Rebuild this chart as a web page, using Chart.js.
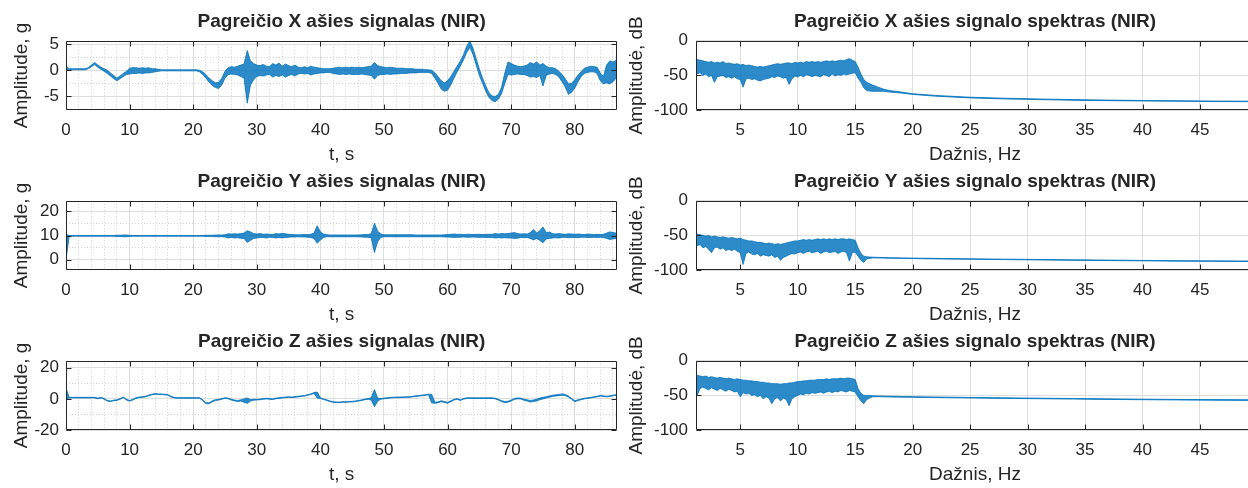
<!DOCTYPE html>
<html>
<head>
<meta charset="utf-8">
<title>Pagreičio signalai ir spektrai (NIR)</title>
<script src="https://cdn.jsdelivr.net/npm/chart.js@4.4.1/dist/chart.umd.min.js"></script>
<style>
  html, body { margin: 0; padding: 0; background: #fff; overflow: hidden; }
  body { position: relative; width: 1248px; height: 488px; }
  canvas { position: absolute; }
</style>
</head>
<body>
<canvas id="xSig" width="623" height="168" style="left:0;top:0"></canvas>
<canvas id="xSpec" width="630" height="168" style="left:624px;top:0"></canvas>
<canvas id="ySig" width="623" height="168" style="left:0;top:160px"></canvas>
<canvas id="ySpec" width="630" height="168" style="left:624px;top:160px"></canvas>
<canvas id="zSig" width="623" height="168" style="left:0;top:320px"></canvas>
<canvas id="zSpec" width="630" height="168" style="left:624px;top:320px"></canvas>
<script>
// time axis, s (one sample every 0.5 s)
var tSec = [
  0, 0.5, 1, 1.5, 2, 2.5, 3, 3.5, 4, 4.5, 5, 5.5, 6, 6.5, 7, 7.5, 8, 8.5, 9, 9.5,
  10, 10.5, 11, 11.5, 12, 12.5, 13, 13.5, 14, 14.5, 15, 15.5, 16, 16.5, 17, 17.5, 18, 18.5, 19, 19.5,
  20, 20.5, 21, 21.5, 22, 22.5, 23, 23.5, 24, 24.5, 25, 25.5, 26, 26.5, 27, 27.5, 28, 28.5, 29, 29.5,
  30, 30.5, 31, 31.5, 32, 32.5, 33, 33.5, 34, 34.5, 35, 35.5, 36, 36.5, 37, 37.5, 38, 38.5, 39, 39.5,
  40, 40.5, 41, 41.5, 42, 42.5, 43, 43.5, 44, 44.5, 45, 45.5, 46, 46.5, 47, 47.5, 48, 48.5, 49, 49.5,
  50, 50.5, 51, 51.5, 52, 52.5, 53, 53.5, 54, 54.5, 55, 55.5, 56, 56.5, 57, 57.5, 58, 58.5, 59, 59.5,
  60, 60.5, 61, 61.5, 62, 62.5, 63, 63.5, 64, 64.5, 65, 65.5, 66, 66.5, 67, 67.5, 68, 68.5, 69, 69.5,
  70, 70.5, 71, 71.5, 72, 72.5, 73, 73.5, 74, 74.5, 75, 75.5, 76, 76.5, 77, 77.5, 78, 78.5, 79, 79.5,
  80, 80.5, 81, 81.5, 82, 82.5, 83, 83.5, 84, 84.5, 85, 85.5, 86, 86.5
];

// X axis signal, g: upper / lower edge of the trace
var xSigHi = [
  0.8, 0.3, 0.3, 0.3, 0.3, 0.3, 0.3, 0.5, 1.0, 1.5, 1.0, 0.6, 0.3, 0.0, -0.5, -1.0, -1.5, -1.1, -0.6, -0.2,
  0.4, 0.5, 0.5, 0.4, 0.5, 0.4, 0.5, 0.3, 0.3, 0.2, 0.1, 0.1, 0.1, 0.1, 0.1, 0.1, 0.1, 0.1, 0.1, 0.1,
  0.1, 0.1, 0.0, -0.3, -0.8, -1.5, -2.0, -2.4, -2.3, -1.5, -0.2, 0.5, 0.7, 0.6, 0.8, 1.0, 1.2, 3.8, 1.8, 1.3,
  1.0, 0.9, 1.1, 0.8, 0.7, 1.3, 1.0, 1.4, 0.8, 1.2, 0.9, 0.7, 1.0, 0.6, 0.5, 0.7, 0.5, 0.8, 0.6, 0.5,
  0.4, 0.3, 0.3, 0.3, 0.4, 0.5, 0.6, 0.5, 0.6, 0.5, 0.6, 0.5, 0.6, 0.5, 0.6, 0.7, 0.8, 1.5, 0.9, 0.7,
  0.6, 0.5, 0.6, 0.5, 0.4, 0.4, 0.4, 0.3, 0.3, 0.3, 0.2, 0.2, 0.2, 0.1, 0.1, 0.0, -0.5, -1.2, -2.0, -2.4,
  -2.0, -1.2, -0.2, 0.8, 1.8, 3.0, 4.6, 5.6, 4.2, 2.2, 0.2, -1.5, -3.0, -4.3, -4.9, -5.0, -4.6, -3.2, -0.5, 1.6,
  1.3, 1.0, 0.8, 0.7, 0.8, 1.0, 1.5, 1.2, 1.6, 1.0, 1.3, 0.8, 0.5, 0.5, 0.3, -0.2, -0.8, -1.6, -2.6, -2.5,
  -1.8, -0.9, -0.3, 0.4, 0.6, 0.8, 0.7, 0.6, -0.5, -1.2, 1.0, 1.8, 1.6, 1.9
];
var xSigLo = [
  -0.1, 0.1, 0.1, 0.1, 0.1, 0.1, 0.1, 0.3, 0.7, 1.1, 0.6, 0.2, -0.2, -0.6, -1.1, -1.6, -2.0, -1.6, -1.2, -0.8,
  -0.7, -0.6, -0.6, -0.5, -0.6, -0.5, -0.5, -0.4, -0.3, -0.2, -0.1, -0.1, -0.1, -0.1, -0.1, -0.1, -0.1, -0.1, -0.1, -0.1,
  -0.1, -0.1, -0.3, -0.8, -1.5, -2.3, -2.9, -3.3, -3.5, -2.8, -1.5, -0.8, -0.7, -0.8, -0.9, -1.2, -1.5, -6.3, -2.8, -1.8,
  -1.2, -1.0, -1.1, -0.9, -0.8, -1.3, -1.0, -1.2, -0.9, -1.3, -1.0, -0.8, -1.1, -0.7, -0.6, -0.7, -0.6, -0.9, -0.7, -0.6,
  -0.5, -0.5, -0.4, -0.4, -0.6, -0.7, -0.8, -0.7, -0.8, -0.7, -0.8, -0.8, -0.8, -0.7, -0.8, -0.9, -1.0, -1.7, -1.0, -0.8,
  -0.8, -0.7, -0.8, -0.7, -0.7, -0.6, -0.6, -0.6, -0.5, -0.5, -0.5, -0.4, -0.4, -0.4, -0.4, -0.6, -1.5, -2.5, -3.6, -4.0,
  -3.8, -2.8, -1.5, -0.3, 0.8, 2.0, 3.4, 4.4, 3.0, 1.0, -1.0, -2.5, -4.0, -5.2, -5.8, -6.0, -5.5, -4.4, -2.5, -0.8,
  -0.9, -0.8, -0.7, -0.8, -0.8, -1.0, -1.3, -1.2, -1.4, -1.0, -3.0, -1.0, -0.7, -0.6, -0.8, -1.3, -2.2, -3.2, -4.6, -4.2,
  -3.4, -2.2, -1.2, -0.6, -0.4, -0.3, -0.3, -0.6, -2.0, -2.6, -2.4, -2.6, -2.2, -1.5
];

// Y axis signal, g
var ySigHi = [
  10.5, 10.0, 10.0, 10.0, 10.0, 10.0, 10.0, 10.0, 10.0, 10.0, 10.0, 10.0, 10.0, 10.0, 10.0, 10.0, 10.1, 10.1, 10.2, 10.2,
  10.1, 10.0, 10.0, 10.0, 10.0, 10.0, 10.0, 10.0, 10.0, 10.0, 10.0, 10.0, 10.0, 10.0, 10.0, 10.0, 10.0, 10.0, 10.0, 10.0,
  10.0, 10.0, 10.0, 10.0, 10.1, 10.1, 10.1, 10.2, 10.2, 10.2, 10.3, 10.7, 10.6, 10.7, 10.6, 10.8, 11.0, 12.0, 11.5, 10.8,
  10.6, 10.8, 10.5, 10.6, 10.5, 10.4, 10.8, 10.6, 10.9, 10.7, 10.5, 10.4, 10.3, 10.3, 10.3, 10.4, 10.4, 10.5, 11.0, 14.0,
  11.5, 10.6, 10.3, 10.2, 10.2, 10.2, 10.2, 10.2, 10.2, 10.2, 10.2, 10.2, 10.2, 10.3, 10.4, 10.4, 10.8, 15.0, 11.8, 10.6,
  10.3, 10.3, 10.3, 10.3, 10.3, 10.3, 10.3, 10.3, 10.3, 10.3, 10.2, 10.2, 10.2, 10.2, 10.2, 10.2, 10.2, 10.2, 10.2, 10.3,
  10.4, 10.5, 10.6, 10.5, 10.5, 10.4, 10.5, 10.5, 10.4, 10.5, 10.5, 10.4, 10.5, 10.5, 10.5, 10.8, 10.6, 10.8, 10.7, 10.8,
  11.0, 11.2, 10.8, 10.6, 10.7, 10.6, 11.2, 12.5, 11.0, 12.0, 13.5, 11.2, 11.4, 10.8, 10.6, 10.8, 10.6, 10.5, 10.7, 10.6,
  10.5, 10.6, 10.5, 10.4, 10.6, 10.5, 10.4, 10.5, 10.4, 10.5, 11.0, 11.5, 11.2, 11.0
];
var ySigLo = [
  0.0, 9.7, 9.7, 9.7, 9.7, 9.7, 9.7, 9.7, 9.7, 9.7, 9.7, 9.7, 9.7, 9.7, 9.7, 9.7, 9.6, 9.6, 9.5, 9.5,
  9.6, 9.7, 9.7, 9.7, 9.7, 9.7, 9.7, 9.7, 9.7, 9.7, 9.7, 9.7, 9.7, 9.7, 9.7, 9.7, 9.7, 9.7, 9.7, 9.7,
  9.7, 9.7, 9.7, 9.7, 9.6, 9.6, 9.6, 9.5, 9.5, 9.5, 9.4, 9.0, 9.2, 9.0, 9.1, 8.9, 8.8, 7.2, 8.0, 8.8,
  9.0, 9.2, 9.2, 9.0, 9.3, 9.2, 9.0, 9.2, 9.0, 9.2, 9.3, 9.4, 9.4, 9.5, 9.4, 9.4, 9.3, 9.2, 8.8, 6.8,
  8.2, 9.2, 9.5, 9.5, 9.5, 9.5, 9.5, 9.5, 9.5, 9.5, 9.5, 9.5, 9.5, 9.4, 9.3, 9.3, 9.0, 3.0, 7.5, 9.2,
  9.5, 9.5, 9.5, 9.5, 9.5, 9.5, 9.5, 9.5, 9.5, 9.5, 9.5, 9.5, 9.5, 9.5, 9.5, 9.5, 9.5, 9.5, 9.5, 9.4,
  9.4, 9.3, 9.2, 9.3, 9.3, 9.4, 9.3, 9.3, 9.4, 9.3, 9.2, 9.3, 9.2, 9.2, 9.2, 9.0, 9.1, 9.0, 9.1, 9.0,
  9.0, 8.8, 8.9, 9.2, 9.1, 9.2, 8.8, 8.2, 8.8, 8.0, 7.0, 8.6, 8.8, 9.0, 9.1, 9.0, 9.2, 9.3, 9.1, 9.2,
  9.2, 9.1, 9.3, 9.3, 9.2, 9.2, 9.3, 9.2, 9.3, 9.2, 8.8, 8.4, 8.6, 8.8
];

// Z axis signal, g
var zSigHi = [
  7.0, 1.0, 1.0, 1.0, 1.0, 1.0, 1.0, 1.0, 1.0, 1.0, 0.5, 1.0, 0.2, -1.0, -1.3, -0.8, -0.6, 0.2, 1.2, -0.3,
  -1.0, -0.3, 0.7, 1.2, 1.4, 1.7, 2.4, 3.0, 3.4, 3.2, 3.2, 3.0, 2.8, 1.7, 1.0, 0.8, 0.8, 0.8, 0.8, 0.8,
  0.8, 0.8, 0.8, -0.5, -2.5, -2.5, -1.2, -0.5, -0.3, 0.2, 0.7, 0.5, -0.3, -0.7, -1.0, -0.6, 0.0, 0.6, -0.4, -0.2,
  -0.3, -0.1, 0.2, 0.4, 0.2, 0.0, 0.5, 0.7, 1.0, 1.2, 1.4, 1.2, 1.5, 1.7, 2.0, 2.2, 2.7, 3.2, 4.1, 4.4,
  0.7, 0.0, -0.6, -1.3, -1.8, -2.0, -2.0, -1.8, -1.8, -1.6, -1.6, -1.3, -1.0, -0.6, -0.1, 0.2, 0.8, 6.0, 0.5, 0.2,
  0.5, 0.7, 1.0, 1.1, 1.2, 1.2, 1.3, 1.4, 1.4, 1.7, 2.0, 2.2, 2.4, 2.7, 3.0, 2.9, -2.2, -1.9, -1.2, -1.7,
  -2.2, -1.2, -0.3, 0.2, -0.6, 0.2, 0.7, 0.7, 0.7, 0.7, 0.7, 0.7, 0.7, 0.7, 0.7, 0.4, -0.3, -1.2, -1.7, -1.5,
  -0.7, 0.3, 0.6, 0.5, -0.2, -0.6, -1.0, -0.7, -0.2, 0.5, 1.0, 1.4, 1.9, 2.4, 2.6, 2.9, 3.2, 2.9, 1.8, 0.3,
  -1.2, -0.6, -0.1, 0.4, 0.7, 1.0, 1.4, 1.7, 2.2, 2.0, 1.7, 2.0, 2.4, 2.7
];
var zSigLo = [
  0.0, 0.6, 0.6, 0.6, 0.6, 0.6, 0.6, 0.6, 0.6, 0.6, 0.1, 0.6, -0.2, -1.4, -1.7, -1.2, -1.0, -0.2, 0.8, -0.7,
  -1.4, -0.7, 0.3, 0.8, 1.0, 1.3, 2.0, 2.6, 3.0, 2.8, 2.8, 2.6, 2.4, 1.3, 0.6, 0.4, 0.4, 0.4, 0.4, 0.4,
  0.4, 0.4, 0.4, -1.1, -3.1, -3.1, -1.8, -1.1, -0.7, -0.2, 0.3, 0.1, -0.7, -1.3, -1.6, -1.4, -2.2, -2.8, -1.4, -0.8,
  -0.7, -0.5, -0.2, 0.0, -0.2, -0.4, 0.1, 0.3, 0.6, 0.8, 1.0, 0.8, 1.1, 1.3, 1.6, 1.8, 2.3, 2.8, 3.5, 0.5,
  0.3, -0.4, -1.0, -1.7, -2.2, -2.4, -2.4, -2.2, -2.2, -2.0, -2.0, -1.7, -1.4, -1.0, -0.5, -0.2, -0.8, -5.0, -1.5, -0.2,
  0.1, 0.3, 0.6, 0.7, 0.8, 0.8, 0.9, 1.0, 1.0, 1.3, 1.6, 1.8, 2.0, 2.3, 2.6, -2.6, -2.8, -2.5, -1.8, -2.3,
  -2.8, -1.8, -0.7, -0.2, -1.0, -0.2, 0.3, 0.3, 0.3, 0.3, 0.3, 0.3, 0.3, 0.3, 0.3, 0.0, -0.7, -1.8, -2.3, -2.1,
  -1.3, -0.3, 0.0, -0.1, -0.8, -1.4, -2.0, -1.7, -1.4, -0.5, 0.0, 0.6, 1.1, 1.6, 1.8, 2.1, 2.4, 2.1, 1.2, -0.3,
  -1.8, -1.0, -0.5, 0.0, 0.3, 0.6, 1.0, 1.3, 1.8, 1.6, 1.3, 1.6, 2.0, 2.3
];

// frequency axis, Hz
var fHz = [
  1.15, 1.25, 1.5, 1.75,
  2, 2.25, 2.5, 2.75,
  3, 3.25, 3.5, 3.75,
  4, 4.25, 4.5, 4.75,
  5, 5.25, 5.5, 5.75,
  6, 6.25, 6.5, 6.75,
  7, 7.25, 7.5, 7.75,
  8, 8.25, 8.5, 8.75,
  9, 9.25, 9.5, 9.75,
  10, 10.25, 10.5, 10.75,
  11, 11.25, 11.5, 11.75,
  12, 12.25, 12.5, 12.75,
  13, 13.25, 13.5, 13.75,
  14, 14.25, 14.5, 14.75,
  15, 15.25, 15.5, 15.75,
  16, 16.5, 17, 17.5, 18,
  19, 20, 22, 25, 28, 31, 34, 37, 40, 43, 46, 49.7
];

// spectra, dB: upper / lower edge of the trace
var xSpecHi = [
  -28, -27, -28, -29,
  -30, -31, -30, -32,
  -31, -32, -30, -33,
  -32, -33, -34, -33,
  -35, -34, -36, -35,
  -36, -37, -38, -37,
  -38, -37, -36, -35,
  -34, -33, -34, -33,
  -32, -32, -33, -31,
  -32, -31, -32, -30,
  -31, -30, -31, -30,
  -31, -30, -29, -30,
  -29, -30, -29, -28,
  -29, -27, -26, -28,
  -30, -38, -48, -56,
  -60, -64, -67, -70, -72,
  -74, -76.5, -79, -81.5, -83, -84, -85, -85.7, -86.2, -86.6, -87, -87.3
];
var xSpecLo = [
  -45, -48, -46, -50,
  -48, -52, -50, -60,
  -52, -51, -50, -53,
  -52, -54, -52, -55,
  -56, -67, -55, -54,
  -56, -55, -57, -58,
  -56, -55, -54, -52,
  -53, -51, -52, -54,
  -53, -63, -55, -51,
  -52, -50, -52, -49,
  -50, -52, -50, -51,
  -52, -49, -50, -52,
  -48, -51, -49, -50,
  -48, -49, -48, -47,
  -46, -54, -60, -68,
  -72, -73, -73, -73, -74,
  -75.5, -77.5, -80, -82.5, -84, -85, -86, -86.5, -87, -87.4, -87.8, -88
];
var ySpecHi = [
  -50, -48, -49, -50,
  -51, -50, -52, -51,
  -52, -53, -52, -53,
  -54, -53, -54, -55,
  -54, -56, -57, -58,
  -58, -59, -60, -60,
  -61, -62, -61, -62,
  -63, -62, -63, -62,
  -61, -60, -59, -58,
  -58, -57, -56, -57,
  -56, -57, -56, -55,
  -56, -55, -56, -55,
  -56, -55, -56, -55,
  -55, -56, -55, -56,
  -57, -68, -76, -80,
  -81, -81.5, -81.8, -82, -82.2,
  -82.5, -82.8, -83.2, -83.8, -84.3, -84.8, -85.3, -85.7, -86.1, -86.5, -86.8, -87.1
];
var ySpecLo = [
  -62, -65, -63, -68,
  -66, -70, -75, -68,
  -67, -70, -68, -72,
  -70, -72, -70, -73,
  -75, -92, -76, -74,
  -77, -78, -76, -80,
  -78, -79, -80, -78,
  -82, -80, -86, -82,
  -80, -78, -76, -77,
  -75, -74, -76, -74,
  -73, -75, -74, -73,
  -76, -74, -73, -75,
  -74, -73, -76, -74,
  -73, -75, -87, -75,
  -74, -80, -86, -89,
  -84, -82.5, -82.6, -82.8, -83,
  -83.2, -83.5, -84, -84.5, -85, -85.5, -86, -86.4, -86.8, -87.2, -87.5, -87.8
];
var zSpecHi = [
  -22, -21, -22, -23,
  -22, -24, -23, -24,
  -25, -24, -25, -26,
  -25, -26, -27, -26,
  -27, -28, -28, -29,
  -29, -30, -30, -31,
  -31, -32, -32, -33,
  -33, -33, -34, -33,
  -33, -32, -32, -31,
  -30, -30, -29, -29,
  -28, -28, -28, -27,
  -27, -27, -26, -27,
  -26, -26, -26, -25,
  -26, -25, -25, -26,
  -27, -40, -47, -50,
  -50, -50.5, -50.8, -51, -51.2,
  -51.5, -51.8, -52.3, -53, -53.5, -54, -54.5, -55, -55.4, -55.8, -56.1, -56.4
];
var zSpecLo = [
  -38, -50, -40, -38,
  -40, -42, -39, -41,
  -43, -40, -42, -44,
  -41, -43, -45, -44,
  -52, -46, -48, -47,
  -50, -49, -52, -50,
  -55, -52, -54, -62,
  -55, -53, -58, -54,
  -56, -65, -55, -52,
  -50, -48, -49, -47,
  -48, -46, -47, -46,
  -45, -47, -45, -44,
  -46, -44, -45, -43,
  -44, -45, -43, -44,
  -45, -52, -58, -62,
  -56, -52, -51.8, -52, -52.2,
  -52.5, -52.8, -53.2, -53.8, -54.3, -54.8, -55.3, -55.8, -56.2, -56.6, -56.9, -57.2
];

var blue = '#0072bd';
var blueFill = 'rgba(0, 114, 189, 0.82)';
var ink = '#262626';
var gridMajor = '#dedede';
var gridMinor = '#d2d2d2';
var family = "'Liberation Sans', Arial, Helvetica, sans-serif";

function isMajor(v, step) {
    var q = v / step;
    return Math.abs(q - Math.round(q)) < 1e-6;
}

function pairs(xs, ys) {
    return xs.map(function (x, i) { return {x: x, y: ys[i]}; });
}

// MATLAB style box with inward tick marks
var boxPlugin = {
    id: 'box',
    afterDatasetsDraw: function (chart, args, opts) {
        var a = chart.chartArea;
        var c = chart.ctx;
        var l = Math.round(a.left) + 0.5, r = Math.round(a.right) - 0.5;
        var t = Math.round(a.top) + 0.5, b = Math.round(a.bottom) - 0.5;
        c.save();
        c.strokeStyle = ink;
        c.lineWidth = 1;
        c.beginPath();
        chart.scales.x.ticks.forEach(function (tk) {
            if (!isMajor(tk.value, opts.xMajor)) return;
            var px = Math.round(chart.scales.x.getPixelForValue(tk.value)) + 0.5;
            c.moveTo(px, b); c.lineTo(px, b - 5);
            c.moveTo(px, t); c.lineTo(px, t + 5);
        });
        chart.scales.y.ticks.forEach(function (tk) {
            if (!isMajor(tk.value, opts.yMajor)) return;
            var py = Math.round(chart.scales.y.getPixelForValue(tk.value)) + 0.5;
            c.moveTo(l, py); c.lineTo(l + 5, py);
            c.moveTo(r, py); c.lineTo(r - 5, py);
        });
        c.rect(l, t, r - l, b - t);
        c.stroke();
        c.restore();
    }
};

function axis(o) {
    return {
        type: 'linear',
        min: o.min,
        max: o.max,
        afterFit: o.fit,
        ticks: {
            stepSize: o.step,
            includeBounds: false,
            autoSkip: false,
            maxRotation: 0,
            minRotation: 0,
            padding: o.pad,
            color: ink,
            font: {family: family, size: 17},
            callback: function (v) { return isMajor(v, o.major) ? String(v) : ''; }
        },
        grid: {
            drawTicks: false,
            color: function (c) { return c.tick && isMajor(c.tick.value, o.major) ? gridMajor : gridMinor; }
        },
        border: {
            display: false,
            dash: function (c) { return c.tick && !isMajor(c.tick.value, o.major) ? [1, 2] : []; }
        },
        title: {
            display: true,
            text: o.title,
            color: ink,
            font: {family: family, size: 19},
            padding: o.titlePad
        }
    };
}

function makeChart(id, c) {
    var ctx = document.getElementById(id).getContext('2d');
    var left = c.side === 'left';
    return new Chart(ctx, {
        type: 'line',
        data: {
            datasets: [{
                data: pairs(c.x, c.hi),
                borderColor: blue,
                borderWidth: 0.8,
                pointRadius: 0,
                fill: false
            }, {
                data: pairs(c.x, c.lo),
                borderColor: blue,
                backgroundColor: blueFill,
                borderWidth: 0.8,
                pointRadius: 0,
                fill: '-1'
            }]
        },
        options: {
            responsive: false,
            animation: false,
            events: [],
            layout: {padding: 0},
            plugins: {
                legend: {display: false},
                tooltip: {enabled: false},
                title: {
                    display: true,
                    fullSize: false,
                    text: c.title,
                    color: ink,
                    font: {family: family, size: 19, weight: 'bold'},
                    padding: {top: 10, bottom: 8}
                },
                box: {xMajor: c.xMajor, yMajor: c.yMajor}
            },
            scales: {
                x: axis({
                    min: c.xMin, max: c.xMax, step: c.xStep, major: c.xMajor, pad: 10,
                    title: left ? 't, s' : 'Dažnis, Hz',
                    titlePad: {top: 0, bottom: 1.6},
                    fit: function (s) { s.height = 58; }
                }),
                y: axis({
                    min: c.yMin, max: c.yMax, step: c.yStep, major: c.yMajor, pad: left ? 7 : 8,
                    title: left ? 'Amplitude, g' : 'Amplitudė, dB',
                    titlePad: {top: left ? 10 : 1.6, bottom: 0},
                    fit: function (s) { s.width = left ? 66 : 72; }
                })
            }
        },
        plugins: [boxPlugin]
    });
}

makeChart('xSig', {
    side: 'left', title: 'Pagreičio X ašies signalas (NIR)',
    x: tSec, hi: xSigHi, lo: xSigLo,
    xMin: 0, xMax: 86.7, xStep: 2, xMajor: 10,
    yMin: -7.6, yMax: 5.65, yStep: 2.5, yMajor: 5
});
makeChart('ySig', {
    side: 'left', title: 'Pagreičio Y ašies signalas (NIR)',
    x: tSec, hi: ySigHi, lo: ySigLo,
    xMin: 0, xMax: 86.7, xStep: 2, xMajor: 10,
    yMin: -4.2, yMax: 24.3, yStep: 5, yMajor: 10
});
makeChart('zSig', {
    side: 'left', title: 'Pagreičio Z ašies signalas (NIR)',
    x: tSec, hi: zSigHi, lo: zSigLo,
    xMin: 0, xMax: 86.7, xStep: 2, xMajor: 10,
    yMin: -20, yMax: 24.5, yStep: 10, yMajor: 20
});
makeChart('xSpec', {
    side: 'right', title: 'Pagreičio X ašies signalo spektras (NIR)',
    x: fHz, hi: xSpecHi, lo: xSpecLo,
    xMin: 1.15, xMax: 49.7, xStep: 5, xMajor: 5,
    yMin: -100, yMax: 0, yStep: 50, yMajor: 50
});
makeChart('ySpec', {
    side: 'right', title: 'Pagreičio Y ašies signalo spektras (NIR)',
    x: fHz, hi: ySpecHi, lo: ySpecLo,
    xMin: 1.15, xMax: 49.7, xStep: 5, xMajor: 5,
    yMin: -100, yMax: 0, yStep: 50, yMajor: 50
});
makeChart('zSpec', {
    side: 'right', title: 'Pagreičio Z ašies signalo spektras (NIR)',
    x: fHz, hi: zSpecHi, lo: zSpecLo,
    xMin: 1.15, xMax: 49.7, xStep: 5, xMajor: 5,
    yMin: -100, yMax: 0, yStep: 50, yMajor: 50
});
</script>
</body>
</html>
